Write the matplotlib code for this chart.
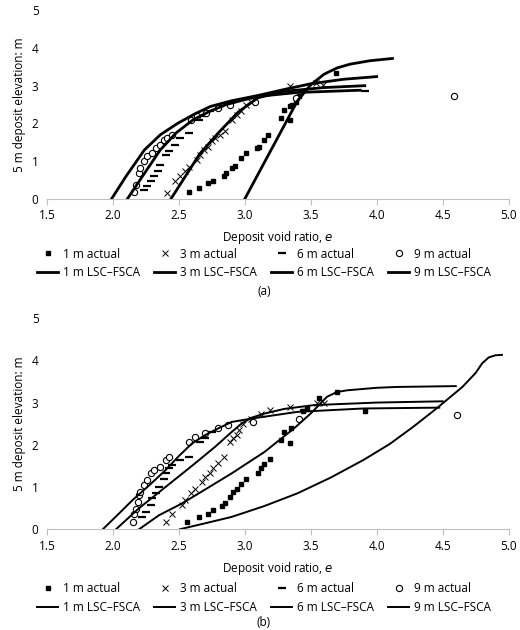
import matplotlib
matplotlib.use("Agg")
import matplotlib.pyplot as plt

plt.rcParams['font.family'] = ['Open Sans', 'DejaVu Sans']
plt.rcParams['font.size'] = 8.5

# ---------- panel (a) ----------
a_1m_e = [2.575,2.65,2.725,2.76,2.84,2.86,2.9,2.925,2.975,3.01,3.09,3.11,3.15,3.175,3.275,3.3,3.34,3.34,3.36,3.39,3.41,3.69]
a_1m_h = [0.18,0.29,0.42,0.47,0.6,0.69,0.82,0.88,1.08,1.22,1.35,1.39,1.57,1.7,2.14,2.36,2.1,2.45,2.5,2.58,2.72,3.33]
a_3m_e = [2.41,2.475,2.51,2.55,2.575,2.64,2.66,2.69,2.725,2.75,2.775,2.81,2.85,2.9,2.94,2.975,3.01,3.05,3.34,3.54,3.59]
a_3m_h = [0.16,0.47,0.6,0.73,0.86,1.04,1.17,1.3,1.39,1.53,1.61,1.7,1.79,2.1,2.23,2.32,2.5,2.58,2.98,3.07,3.02]
a_6m_e = [2.24,2.26,2.29,2.31,2.34,2.36,2.4,2.43,2.475,2.51,2.575,2.65,2.69,2.74,2.81,3.91]
a_6m_h = [0.25,0.34,0.47,0.6,0.73,0.91,1.17,1.26,1.44,1.61,1.75,2.1,2.19,2.32,2.45,2.85]
a_9m_e = [2.16,2.175,2.2,2.21,2.24,2.26,2.3,2.325,2.36,2.39,2.41,2.45,2.59,2.64,2.71,2.8,2.89,3.075,3.39,4.59]
a_9m_h = [0.2,0.38,0.69,0.82,1.0,1.13,1.22,1.35,1.44,1.57,1.61,1.7,2.1,2.19,2.28,2.41,2.5,2.58,2.67,2.72]

a_L1_e = [3.0,3.1,3.2,3.3,3.4,3.5,3.6,3.7,3.8,3.95,4.12]
a_L1_h = [0.0,0.65,1.3,1.95,2.6,3.02,3.3,3.47,3.57,3.66,3.72]
a_L3_e = [2.44,2.55,2.66,2.8,2.95,3.1,3.3,3.6,3.91]
a_L3_h = [0.0,0.6,1.2,1.75,2.3,2.68,2.85,2.95,3.0]
a_L6_e = [2.11,2.24,2.36,2.48,2.61,2.74,2.86,3.0,3.11,3.4,3.875]
a_L6_h = [0.0,0.68,1.3,1.75,2.1,2.33,2.5,2.63,2.72,2.82,2.88]
a_L9_e = [1.99,2.1,2.24,2.36,2.49,2.62,2.74,2.9,3.1,3.3,3.5,3.75,4.0]
a_L9_h = [0.0,0.6,1.3,1.7,2.0,2.25,2.45,2.6,2.74,2.9,3.05,3.17,3.24]

# ---------- panel (b) ----------
b_1m_e = [2.56,2.65,2.725,2.76,2.825,2.85,2.89,2.91,2.94,2.975,3.01,3.1,3.125,3.15,3.19,3.275,3.3,3.34,3.35,3.44,3.475,3.56,3.7,3.91]
b_1m_h = [0.17,0.29,0.37,0.45,0.55,0.63,0.77,0.88,0.95,1.08,1.2,1.32,1.44,1.54,1.66,2.12,2.31,2.05,2.39,2.8,2.86,3.1,3.25,2.8]
b_3m_e = [2.4,2.45,2.525,2.55,2.59,2.625,2.675,2.7,2.74,2.76,2.8,2.84,2.89,2.91,2.94,2.96,2.99,3.05,3.125,3.19,3.34,3.55,3.6]
b_3m_h = [0.16,0.37,0.57,0.69,0.85,0.96,1.12,1.24,1.32,1.44,1.56,1.71,2.07,2.15,2.23,2.35,2.5,2.62,2.74,2.82,2.9,2.98,2.99]
b_6m_e = [2.225,2.25,2.29,2.3,2.325,2.35,2.39,2.4,2.425,2.45,2.51,2.575,2.66,2.7,2.75,3.45]
b_6m_h = [0.29,0.41,0.57,0.73,0.85,1.0,1.2,1.32,1.44,1.52,1.64,1.71,2.07,2.15,2.31,2.82]
b_9m_e = [2.15,2.16,2.175,2.19,2.2,2.21,2.24,2.26,2.29,2.31,2.36,2.4,2.425,2.575,2.625,2.7,2.8,2.875,3.06,3.41,4.61]
b_9m_h = [0.17,0.37,0.49,0.65,0.81,0.88,1.04,1.16,1.32,1.4,1.48,1.64,1.71,2.07,2.19,2.27,2.39,2.46,2.54,2.62,2.7]

b_L1_e = [2.51,2.7,2.9,3.15,3.4,3.65,3.9,4.1,4.275,4.45,4.65,4.75,4.8,4.85,4.9,4.95]
b_L1_h = [0.0,0.14,0.29,0.55,0.85,1.22,1.64,2.02,2.42,2.85,3.37,3.7,3.93,4.07,4.12,4.13]
b_L3_e = [2.2,2.35,2.525,2.7,2.9,3.15,3.375,3.5,3.625,3.7,3.775,4.0,4.15,4.6]
b_L3_h = [0.0,0.33,0.61,0.94,1.32,1.83,2.39,2.74,3.14,3.25,3.29,3.35,3.37,3.39]
b_L6_e = [2.025,2.2,2.4,2.6,2.775,2.9,2.975,3.05,3.15,3.3,3.525,4.0,4.5]
b_L6_h = [0.0,0.5,1.0,1.5,1.95,2.3,2.5,2.64,2.74,2.85,2.94,3.0,3.03]
b_L9_e = [1.925,2.05,2.15,2.28,2.4,2.5,2.6,2.7,2.775,2.9,3.05,3.4,3.9,4.475]
b_L9_h = [0.0,0.38,0.69,1.05,1.4,1.73,2.03,2.23,2.35,2.54,2.62,2.78,2.86,2.88]

x_ticks = [1.5,2.0,2.5,3.0,3.5,4.0,4.5,5.0]
y_ticks = [0,1,2,3,4,5]

fig = plt.figure(figsize=(5.2,6.3), dpi=100)
ax_a = fig.add_axes([0.09,0.684,0.888,0.30])
ax_b = fig.add_axes([0.09,0.16,0.888,0.335])

def style(ax):
    ax.set_xlim(1.5,5.0); ax.set_ylim(0,5)
    ax.set_xticks(x_ticks); ax.set_yticks(y_ticks)
    ax.set_xticklabels([f"{t:.1f}" for t in x_ticks])
    for s in ['top','right','left']:
        ax.spines[s].set_visible(False)
    ax.spines['bottom'].set_color('#bfbfbf')
    ax.tick_params(axis='y', length=0, pad=6)
    ax.tick_params(axis='x', length=4, color='#bfbfbf', direction='out')
    ax.set_xlabel('Deposit void ratio, $e$', labelpad=5)
    ax.set_ylabel('5 m deposit elevation: m')

def draw(ax, pts, lines, tag):
    (e1,h1),(e3,h3),(e6,h6),(e9,h9) = pts
    hs = []
    hs += ax.plot(e1,h1,'s',color='black',ms=3.5,ls='none',label='1 m actual')
    hs += ax.plot(e3,h3,'x',color='black',ms=4,mew=0.7,ls='none',label='3 m actual')
    hs += ax.plot(e6,h6,'_',color='black',ms=6,mew=1.6,ls='none',label='6 m actual')
    hs += ax.plot(e9,h9,'o',mfc='white',mec='black',ms=4.5,mew=0.8,ls='none',label='9 m actual')
    for (e,h),lab in zip(lines,['1 m LSC–FSCA','3 m LSC–FSCA','6 m LSC–FSCA','9 m LSC–FSCA']):
        hs += ax.plot(e,h,'-',color='black',lw=2.0 if tag=='(a)' else 1.4,label=lab)
    style(ax)
    order = [0,4,1,5,2,6,3,7]
    ax.legend([hs[i] for i in order], [hs[i].get_label() for i in order],
              ncol=4, loc='upper center', bbox_to_anchor=(0.47,-0.2), frameon=False,
              handlelength=1.8, columnspacing=1.2, handletextpad=0.4, fontsize=8.5)
    ax.text(0.47,-0.51 if tag=='(a)' else -0.46, tag, transform=ax.transAxes, ha='center')

draw(ax_a, [(a_1m_e,a_1m_h),(a_3m_e,a_3m_h),(a_6m_e,a_6m_h),(a_9m_e,a_9m_h)],
     [(a_L1_e,a_L1_h),(a_L3_e,a_L3_h),(a_L6_e,a_L6_h),(a_L9_e,a_L9_h)], '(a)')
draw(ax_b, [(b_1m_e,b_1m_h),(b_3m_e,b_3m_h),(b_6m_e,b_6m_h),(b_9m_e,b_9m_h)],
     [(b_L1_e,b_L1_h),(b_L3_e,b_L3_h),(b_L6_e,b_L6_h),(b_L9_e,b_L9_h)], '(b)')

fig.savefig('out.png', dpi=100)
